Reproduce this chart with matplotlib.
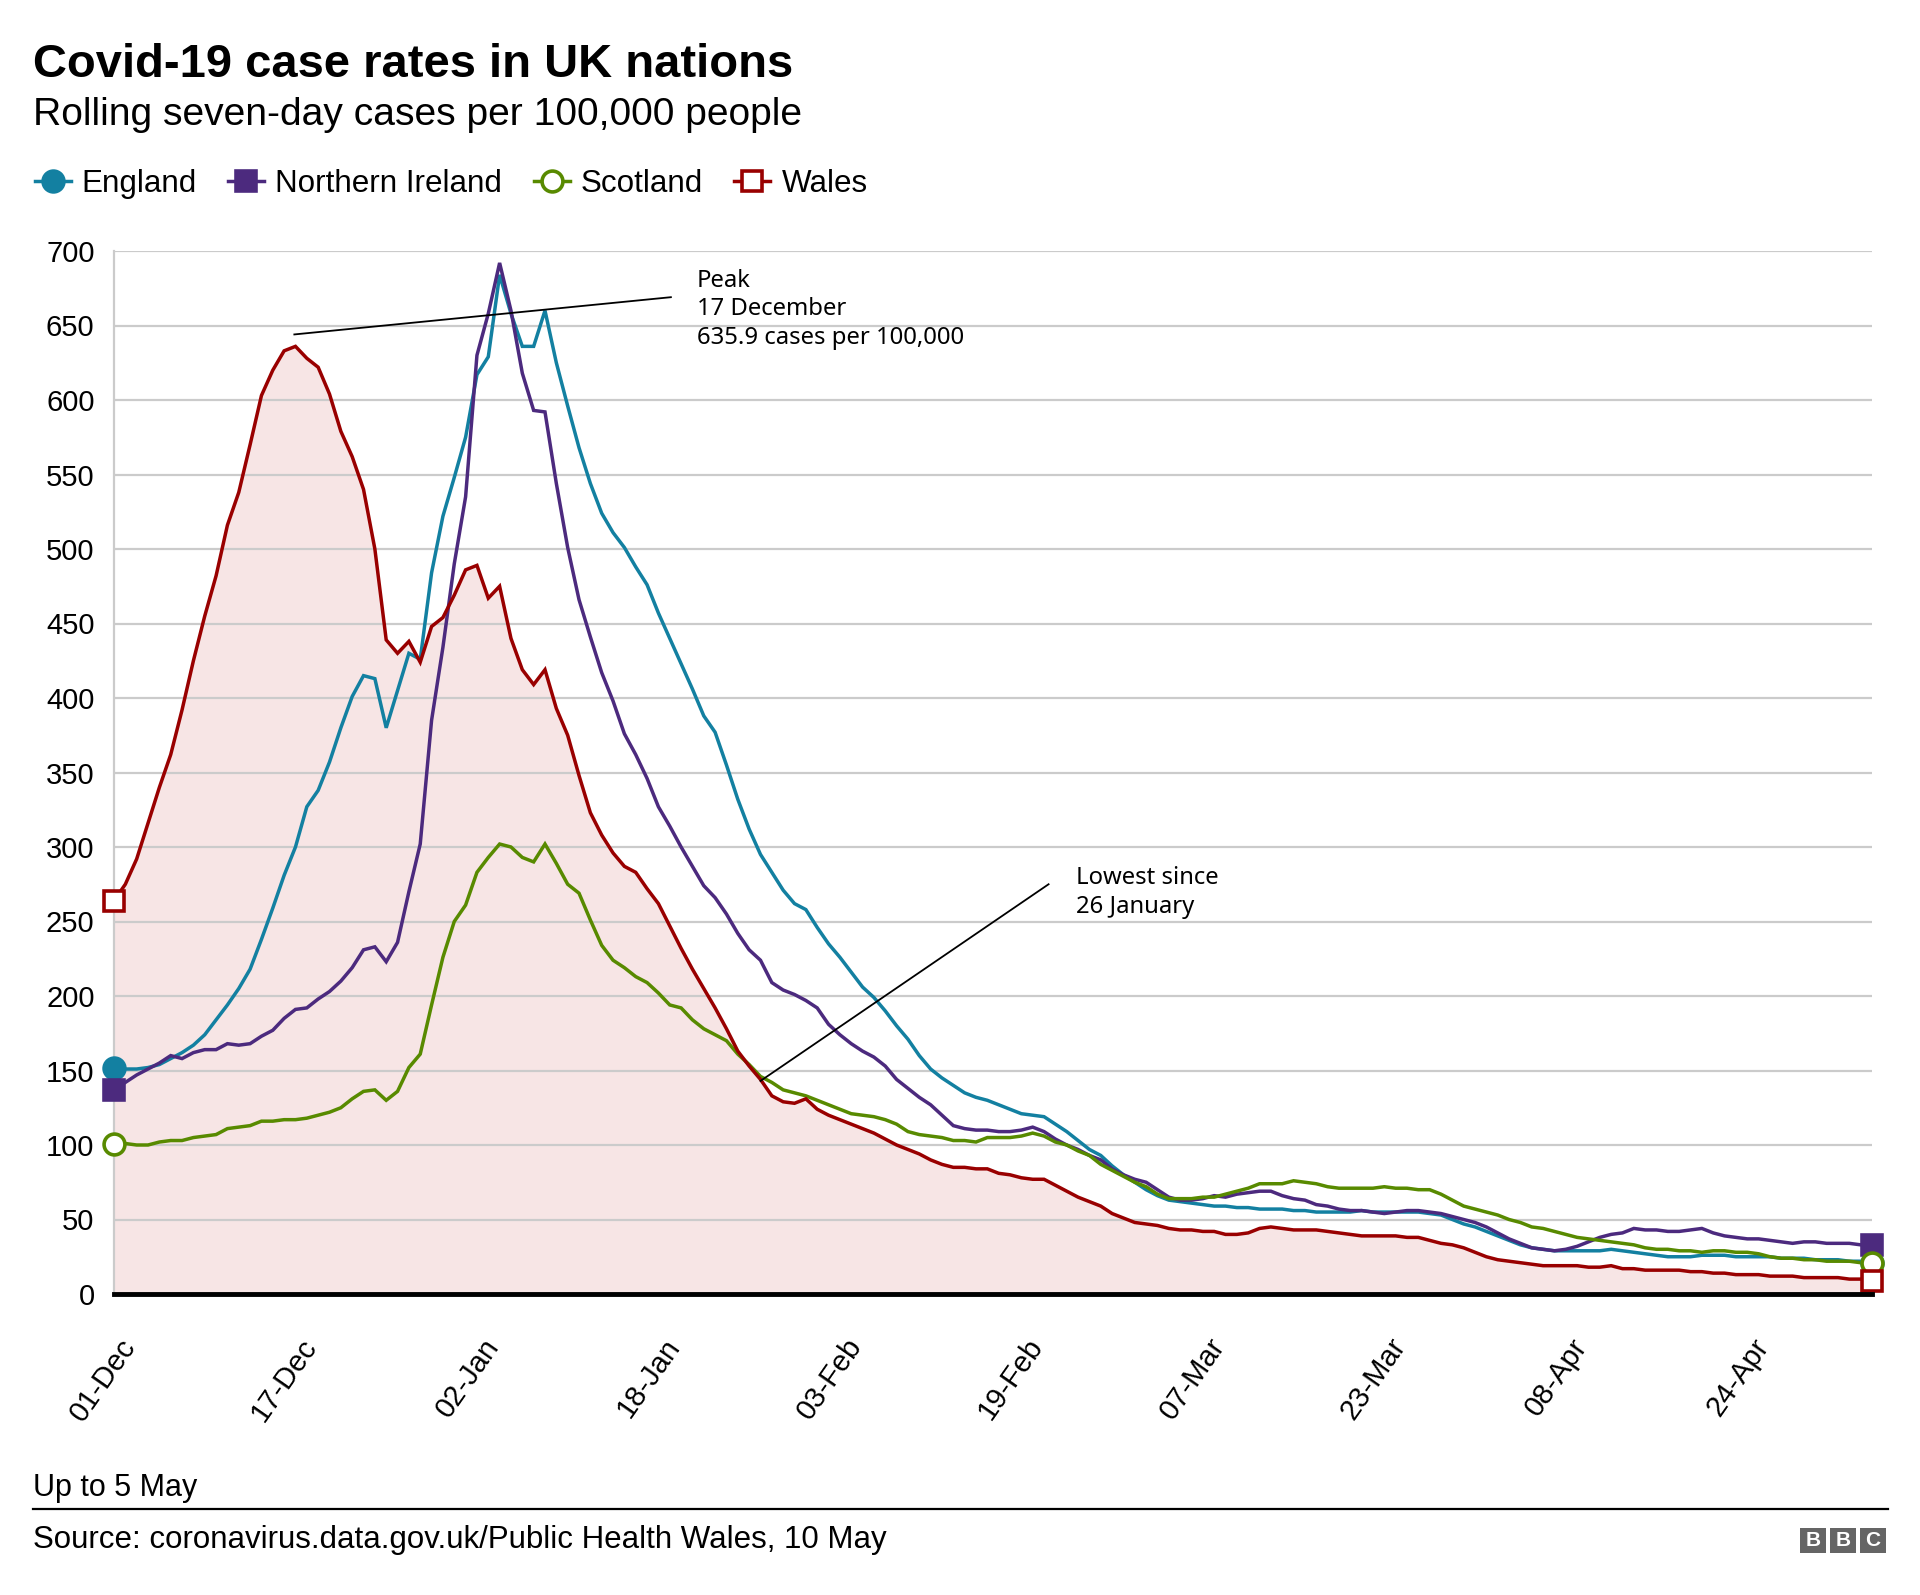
import numpy as np
import matplotlib
matplotlib.use("Agg")
import matplotlib.pyplot as plt
import matplotlib.transforms as mtransforms
from matplotlib.lines import Line2D
from matplotlib.patches import Rectangle

# rolling seven-day cases per 100,000, one value per day from 01-Dec to 05-May
england = [152, 151, 151, 152, 154, 158, 162, 167, 174, 184,
           194, 205, 218, 238, 259, 281, 300, 327, 338, 357,
           380, 401, 415, 413, 380, 405, 430, 426, 484, 522,
           548, 575, 617, 629, 684, 658, 636, 636, 660, 625,
           596, 568, 544, 524, 511, 501, 488, 476, 457, 440,
           423, 406, 388, 377, 355, 332, 312, 295, 283, 271,
           262, 258, 246, 235, 226, 216, 206, 199, 190, 180,
           171, 160, 151, 145, 140, 135, 132, 130, 127, 124,
           121, 120, 119, 114, 109, 103, 97, 93, 86, 80,
           75, 70, 66, 63, 62, 61, 60, 59, 59, 58,
           58, 57, 57, 57, 56, 56, 55, 55, 55, 55,
           56, 55, 55, 55, 55, 55, 54, 53, 50, 47,
           45, 42, 39, 36, 33, 31, 30, 29, 29, 29,
           29, 29, 30, 29, 28, 27, 26, 25, 25, 25,
           26, 26, 26, 25, 25, 25, 25, 24, 24, 24,
           23, 23, 23, 22, 22, 21]
nireland = [137, 142, 147, 151, 155, 160, 158, 162, 164, 164,
            168, 167, 168, 173, 177, 185, 191, 192, 198, 203,
            210, 219, 231, 233, 223, 236, 270, 302, 385, 434,
            490, 535, 630, 658, 692, 660, 618, 593, 592, 544,
            501, 466, 441, 417, 398, 376, 362, 346, 327, 314,
            300, 287, 274, 266, 255, 242, 231, 224, 209, 204,
            201, 197, 192, 181, 174, 168, 163, 159, 153, 144,
            138, 132, 127, 120, 113, 111, 110, 110, 109, 109,
            110, 112, 109, 104, 100, 97, 93, 90, 84, 80,
            77, 75, 70, 65, 63, 63, 64, 66, 65, 67,
            68, 69, 69, 66, 64, 63, 60, 59, 57, 56,
            56, 55, 54, 55, 56, 56, 55, 54, 52, 50,
            48, 45, 41, 37, 34, 31, 30, 29, 30, 32,
            35, 38, 40, 41, 44, 43, 43, 42, 42, 43,
            44, 41, 39, 38, 37, 37, 36, 35, 34, 35,
            35, 34, 34, 34, 33, 33]
scotland = [101, 101, 100, 100, 102, 103, 103, 105, 106, 107,
            111, 112, 113, 116, 116, 117, 117, 118, 120, 122,
            125, 131, 136, 137, 130, 136, 152, 161, 194, 226,
            250, 261, 283, 293, 302, 300, 293, 290, 302, 289,
            275, 269, 251, 234, 224, 219, 213, 209, 202, 194,
            192, 184, 178, 174, 170, 161, 154, 146, 142, 137,
            135, 133, 130, 127, 124, 121, 120, 119, 117, 114,
            109, 107, 106, 105, 103, 103, 102, 105, 105, 105,
            106, 108, 106, 102, 100, 96, 93, 87, 83, 79,
            75, 72, 67, 64, 64, 64, 65, 65, 67, 69,
            71, 74, 74, 74, 76, 75, 74, 72, 71, 71,
            71, 71, 72, 71, 71, 70, 70, 67, 63, 59,
            57, 55, 53, 50, 48, 45, 44, 42, 40, 38,
            37, 36, 35, 34, 33, 31, 30, 30, 29, 29,
            28, 29, 29, 28, 28, 27, 25, 24, 24, 23,
            23, 22, 22, 22, 21, 21]
wales = [264, 275, 292, 316, 340, 362, 392, 425, 455, 482,
         516, 538, 570, 603, 620, 633, 636, 628, 622, 604,
         579, 562, 540, 500, 439, 430, 438, 424, 448, 454,
         469, 486, 489, 467, 475, 440, 419, 409, 419, 393,
         375, 348, 323, 308, 296, 287, 283, 272, 262, 247,
         232, 218, 205, 192, 178, 163, 153, 144, 133, 129,
         128, 131, 124, 120, 117, 114, 111, 108, 104, 100,
         97, 94, 90, 87, 85, 85, 84, 84, 81, 80,
         78, 77, 77, 73, 69, 65, 62, 59, 54, 51,
         48, 47, 46, 44, 43, 43, 42, 42, 40, 40,
         41, 44, 45, 44, 43, 43, 43, 42, 41, 40,
         39, 39, 39, 39, 38, 38, 36, 34, 33, 31,
         28, 25, 23, 22, 21, 20, 19, 19, 19, 19,
         18, 18, 19, 17, 17, 16, 16, 16, 16, 15,
         15, 14, 14, 13, 13, 13, 12, 12, 12, 11,
         11, 11, 11, 10, 10, 9]

tick_labels = ['01-Dec', '17-Dec', '02-Jan', '18-Jan', '03-Feb',
               '19-Feb', '07-Mar', '23-Mar', '08-Apr', '24-Apr']
series_names = ['England', 'Northern Ireland', 'Scotland', 'Wales']

FONT = ['Liberation Sans', 'DejaVu Sans']
NOTE_FONT = ['Noto Sans', 'DejaVu Sans']
plt.rcParams['font.family'] = FONT

c_eng = '#1380a1'
c_ni = '#4c2a7e'
c_sco = '#588a00'
c_wal = '#990000'

days = np.arange(len(wales))

fig = plt.figure(figsize=(19.2, 15.95), dpi=100)
ax = fig.add_axes([114 / 1920, 1 - 1294 / 1595, (1872 - 114) / 1920, (1294 - 251) / 1595])

# pink area under the Wales line
ax.fill_between(days, 0, wales, color='#f7e5e5', lw=0, zorder=0.2)

styles = [
    (england, c_eng, 'o', c_eng),
    (nireland, c_ni, 's', c_ni),
    (scotland, c_sco, 'o', 'white'),
    (wales, c_wal, 's', 'white'),
]
for vals, col, mk, face in styles:
    ax.plot(days, vals, color=col, lw=2.5, zorder=3, solid_joinstyle='miter')
    ax.plot([days[0], days[-1]], [vals[0], vals[-1]], ls='none', marker=mk,
            markersize=15, markerfacecolor=face, markeredgecolor=col,
            markeredgewidth=2.6, zorder=4, clip_on=False)

ax.set_xlim(0, days[-1])
ax.set_ylim(0, 700)
ax.set_yticks(np.arange(0, 701, 50))
ax.set_xticks(days[::16][:len(tick_labels)])
ax.set_xticklabels(tick_labels, rotation=55, ha='right', va='center',
                   rotation_mode='anchor')
ax.tick_params(axis='y', length=0, pad=14, labelsize=21)
ax.tick_params(axis='x', length=0, pad=34, labelsize=21)
offset = mtransforms.ScaledTranslation(16 / 100, 0, fig.dpi_scale_trans)
for lab in ax.get_xticklabels():
    lab.set_transform(lab.get_transform() + offset)

ax.grid(axis='y', color='#cbcbcb', lw=1.6)
ax.set_axisbelow(True)
for s in ['top', 'right']:
    ax.spines[s].set_visible(False)
ax.spines['left'].set_color('#cbcbcb')
ax.spines['left'].set_linewidth(1.6)
ax.spines['bottom'].set_color('black')
ax.spines['bottom'].set_linewidth(3.5)
ax.spines['bottom'].set_zorder(5)

# annotations
ax.plot([15.9, 49.1], [644, 669], color='black', lw=1.3, zorder=6, clip_on=False)
ax.text(51.4, 688, 'Peak\n17 December\n635.9 cases per 100,000', fontsize=17.2,
        family=NOTE_FONT, va='top', ha='left', linespacing=1.25, zorder=6)
ax.plot([57, 82.4], [143, 275], color='black', lw=1.3, zorder=6)
ax.text(84.8, 287, 'Lowest since\n26 January', fontsize=17.2,
        family=NOTE_FONT, va='top', ha='left', linespacing=1.25, zorder=6)

# titles
fig.text(33 / 1920, 1 - 77 / 1595, 'Covid-19 case rates in UK nations',
         fontsize=33.9, fontweight='bold', va='baseline', ha='left')
fig.text(33 / 1920, 1 - 125 / 1595, 'Rolling seven-day cases per 100,000 people',
         fontsize=28.1, va='baseline', ha='left')

handles = []
for (vals, col, mk, face), name in zip(styles, series_names):
    handles.append(Line2D([], [], color=col, lw=2.5, marker=mk, markersize=15,
                          markerfacecolor=face, markeredgecolor=col,
                          markeredgewidth=2.6, label=name))
fig.legend(handles=handles, loc='center left', bbox_to_anchor=(22 / 1920, 1 - 184 / 1595),
           ncol=4, frameon=False, fontsize=22.6, handlelength=1.15,
           handletextpad=0.35, columnspacing=1.0, borderaxespad=0)

# footer
fig.text(33 / 1920, 1 - 1496 / 1595, 'Up to 5 May', fontsize=22, va='baseline', ha='left')
fig.add_artist(Line2D([33 / 1920, 1888 / 1920], [1 - 1509 / 1595, 1 - 1509 / 1595],
                      color='black', lw=1.6))
fig.text(33 / 1920, 1 - 1548 / 1595,
         'Source: coronavirus.data.gov.uk/Public Health Wales, 10 May',
         fontsize=22.5, va='baseline', ha='left')

# BBC blocks
for i, letter in enumerate('BBC'):
    x0 = 1800 + i * 30
    fig.add_artist(Rectangle((x0 / 1920, 1 - 1553 / 1595), 26 / 1920, 25 / 1595,
                             transform=fig.transFigure, color='#656565', lw=0))
    fig.text((x0 + 13) / 1920, 1 - 1541 / 1595, letter, color='white', fontsize=15,
             fontweight='bold', ha='center', va='center')

fig.savefig('out.png', dpi=100)
